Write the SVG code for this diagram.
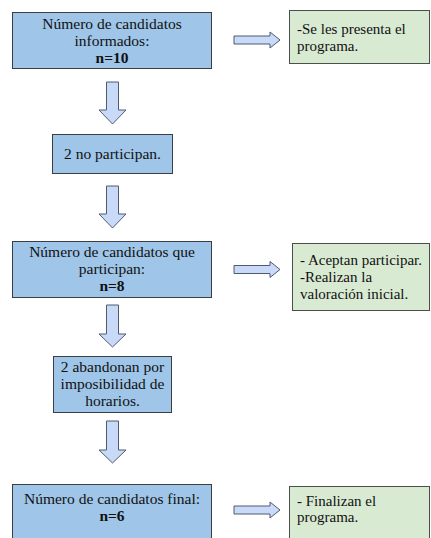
<svg xmlns="http://www.w3.org/2000/svg" width="431" height="538" viewBox="0 0 431 538" font-family="'Liberation Serif', 'Times New Roman', Times, 'DejaVu Serif', serif">
<style>
.blue{fill:#9fc5e8;stroke:#3b3f45;stroke-width:1}
.green{fill:#d9ead3;stroke:#4a4f4a;stroke-width:1}
.arr{fill:#c9daf8;stroke:#4f5b6e;stroke-width:1;stroke-linejoin:miter}
.t{font-family:'Liberation Serif','Times New Roman',Times,'DejaVu Serif',serif;font-size:15.5px;fill:#111}
.g{font-size:15px}
.c{text-anchor:middle}
.b{font-weight:bold}
</style>
<rect width="431" height="538" fill="#ffffff"/>
<g id="connectors">
<path class="arr" d="M106.5,82 H118.5 V110 H126 L112.5,124 L99,110 H106.5 Z"/>
<path class="arr" d="M106.5,186 H118.5 V214 H126 L112.5,228 L99,214 H106.5 Z"/>
<path class="arr" d="M106.5,305 H118.5 V334 H126 L112.5,347 L99,334 H106.5 Z"/>
<path class="arr" d="M106.5,421 H118.5 V450 H126 L112.5,463 L99,450 H106.5 Z"/>
<path class="arr" d="M234,36 H270 V32 L280,40 L270,48 V44 H234 Z"/>
<path class="arr" d="M234,265.5 H270 V261.5 L280,269.5 L270,277.5 V273.5 H234 Z"/>
<path class="arr" d="M234,506 H270 V502 L280,510 L270,518 V514 H234 Z"/>
</g>
<g id="node-informados">
<rect class="blue" x="12.5" y="12.5" width="199" height="56"/>
<text class="t c" x="112" y="29">Número de candidatos</text>
<text class="t c" x="112" y="46">informados:</text>
<text class="t c b" x="112" y="63">n=10</text>
</g>
<g id="node-presenta">
<rect class="green" x="289.5" y="10.5" width="140" height="53"/>
<text class="t g" x="297" y="34">-Se les presenta el</text>
<text class="t g" x="297" y="51">programa.</text>
</g>
<g id="node-noparticipan">
<rect class="blue" x="52.5" y="134.5" width="120" height="39"/>
<text class="t c" x="112.5" y="159">2 no participan.</text>
</g>
<g id="node-participan">
<rect class="blue" x="12.5" y="241.5" width="199" height="56"/>
<text class="t c" x="112" y="257">Número de candidatos que</text>
<text class="t c" x="112" y="274">participan:</text>
<text class="t c b" x="112" y="291">n=8</text>
</g>
<g id="node-aceptan">
<rect class="green" x="292.5" y="243.5" width="137" height="67"/>
<text class="t g" x="300" y="265">- Aceptan participar.</text>
<text class="t g" x="300" y="282">-Realizan la</text>
<text class="t g" x="300" y="299">valoración inicial.</text>
</g>
<g id="node-abandonan">
<rect class="blue" x="53.5" y="356.5" width="118" height="56"/>
<text class="t c" x="112.5" y="372">2 abandonan por</text>
<text class="t c" x="112.5" y="389">imposibilidad de</text>
<text class="t c" x="112.5" y="406">horarios.</text>
</g>
<g id="node-final">
<rect class="blue" x="12.5" y="484.5" width="199" height="60"/>
<text class="t c" x="112" y="504">Número de candidatos final:</text>
<text class="t c b" x="112" y="521">n=6</text>
</g>
<g id="node-finalizan">
<rect class="green" x="289.5" y="486.5" width="140" height="60"/>
<text class="t g" x="297" y="506">- Finalizan el</text>
<text class="t g" x="297" y="522">programa.</text>
</g>
</svg>
